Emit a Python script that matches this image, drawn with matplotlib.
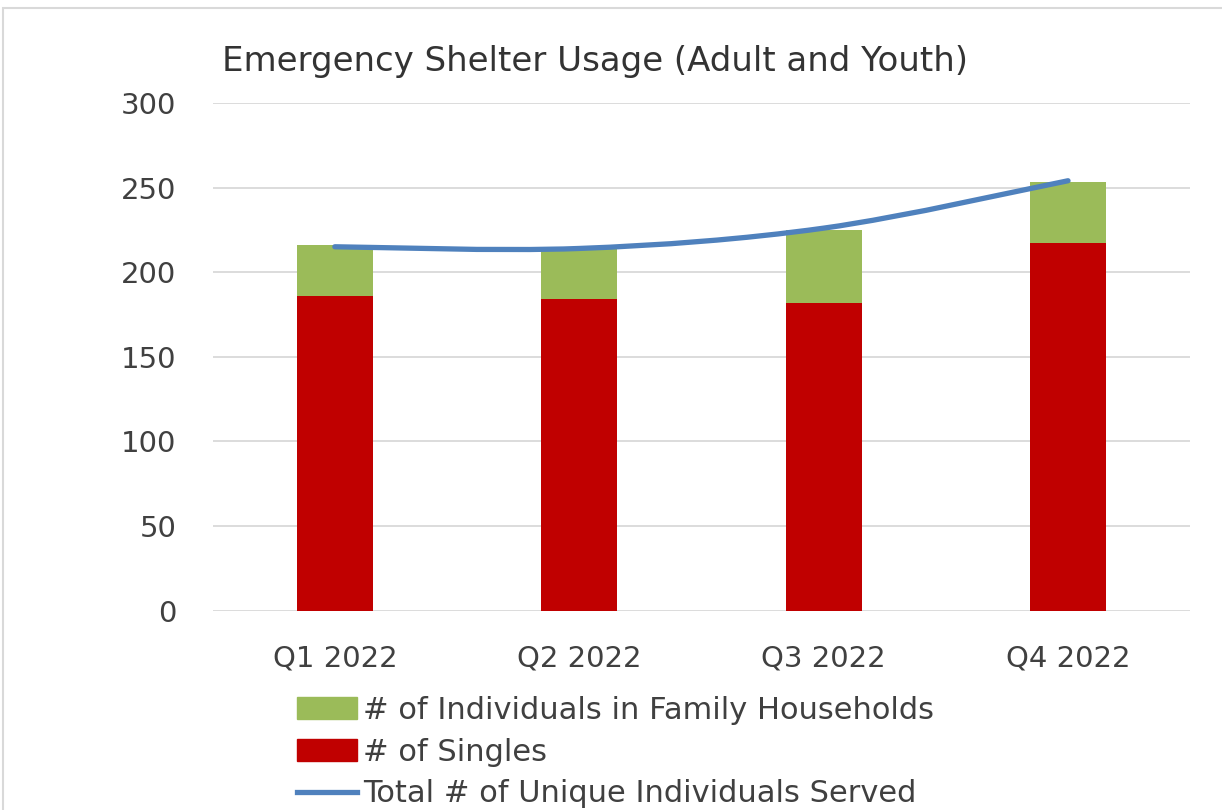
import numpy as np
import matplotlib
matplotlib.use('Agg')
import matplotlib.pyplot as plt
from matplotlib.path import Path
from matplotlib.patches import PathPatch, Rectangle
from matplotlib.lines import Line2D

quarters = ['Q1 2022', 'Q2 2022', 'Q3 2022', 'Q4 2022']
singles = [186, 184, 182, 217]
family = [30, 30, 43, 36]
total_unique = [215, 214, 226, 254]

plt.rcParams['font.family'] = ['DejaVu Sans']

fig = plt.figure(figsize=(12.22, 8.1), dpi=100)
ax = fig.add_axes([0.174, 0.246, 0.80, 0.627])

x = np.arange(len(quarters))
ax.bar(x, singles, width=0.31, color='#C00000', zorder=2)
ax.bar(x, family, bottom=singles, width=0.31, color='#9BBB59', zorder=2)

# smoothed line like excel (bezier segments through the points)
pts = np.column_stack([x, total_unique]).astype(float)
verts = [tuple(pts[0])]
codes = [Path.MOVETO]
for i in range(len(pts) - 1):
    p0 = pts[max(i - 1, 0)]
    p1 = pts[i]
    p2 = pts[i + 1]
    p3 = pts[min(i + 2, len(pts) - 1)]
    c1 = p1 + (p2 - p0) / 6
    c2 = p2 - (p3 - p1) / 6
    verts += [tuple(c1), tuple(c2), tuple(p2)]
    codes += [Path.CURVE4] * 3
ax.add_patch(PathPatch(Path(verts, codes), facecolor='none', edgecolor='#4F81BD',
                       linewidth=3.8, capstyle='round', zorder=3))

ax.set_xlim(-0.5, 3.5)
ax.set_ylim(0, 300)
ax.set_yticks(range(0, 301, 50))
ax.set_xticks(x)
ax.set_xticklabels(quarters)
ax.grid(axis='y', color='#D9D9D9', linewidth=1.3, zorder=0)
for s in ax.spines.values():
    s.set_visible(False)
ax.tick_params(axis='both', length=0, labelsize=21, colors='#404040')
ax.tick_params(axis='y', pad=26)
ax.tick_params(axis='x', pad=24)

fig.text(0.182, 0.924, 'Emergency Shelter Usage (Adult and Youth)', fontsize=24.5,
         color='#333333', va='center', ha='left')

handles = [Rectangle((0, 0), 1, 1, color='#9BBB59'),
           Rectangle((0, 0), 1, 1, color='#C00000'),
           Line2D([0], [0], color='#4F81BD', linewidth=3.8)]
labels = ['# of Individuals in Family Households', '# of Singles',
          'Total # of Unique Individuals Served']
leg = fig.legend(handles, labels, loc='upper left', bbox_to_anchor=(0.243, 0.141),
                 frameon=False, fontsize=22, handlelength=1.95, handletextpad=0.2,
                 handleheight=0.75, labelspacing=0.42, borderpad=0, borderaxespad=0)
for t in leg.get_texts():
    t.set_color('#404040')

fig.patches.append(Rectangle((0.0025, -0.1), 1.1, 1.09, transform=fig.transFigure,
                             fill=False, edgecolor='#D9D9D9', linewidth=1.5))

plt.savefig('out.png', dpi=100)
